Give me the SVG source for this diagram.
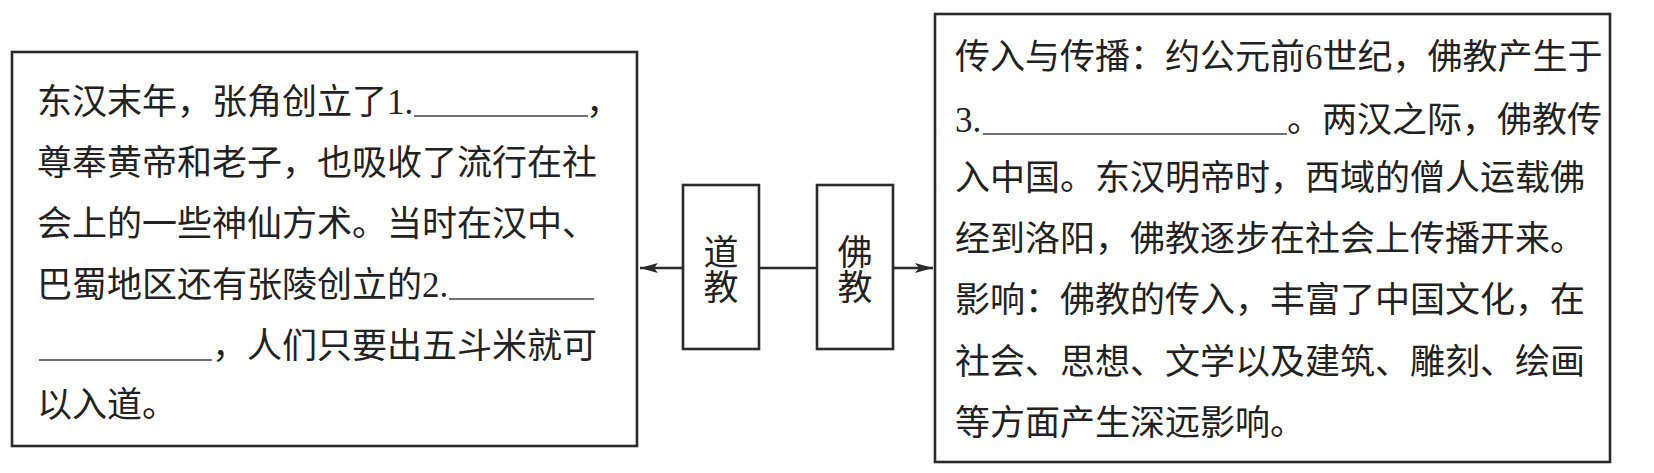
<svg xmlns="http://www.w3.org/2000/svg" width="1654" height="473" viewBox="0 0 1654 473">
<style>
.box{fill:#fff;stroke:#2a2a2a;stroke-width:2.6}
.t{font-family:"Noto Sans CJK SC","Noto Sans",sans-serif;font-size:35px;fill:#222}
.v{writing-mode:vertical-rl}
.d{font-family:"Liberation Serif",serif}
.blank{stroke:#444;stroke-width:1.5}
.conn{stroke:#2a2a2a;stroke-width:2.4;fill:none}
</style>
<defs>
<marker id="ah" markerUnits="userSpaceOnUse" markerWidth="22" markerHeight="14" refX="19" refY="6" orient="auto">
<path d="M1,1 L19,6 L1,11 L5,6 Z" fill="#2a2a2a"/>
</marker>
</defs>
<rect width="1654" height="473" fill="#fff"/>
<g id="connectors">
<line class="conn" x1="683" y1="268" x2="640" y2="268" marker-end="url(#ah)"/>
<line class="conn" x1="759" y1="268" x2="817" y2="268"/>
<line class="conn" x1="893" y1="268" x2="933" y2="268" marker-end="url(#ah)"/>
</g>
<g id="daoism-box">
<rect class="box" x="12" y="52" width="625" height="394"/>
<text class="t" x="37" y="114">东汉末年，张角创立了<tspan class="d">1.</tspan></text>
<line class="blank" x1="414" y1="116" x2="588" y2="116"/>
<text class="t" x="586" y="114">，</text>
<text class="t" x="37" y="175">尊奉黄帝和老子，也吸收了流行在社</text>
<text class="t" x="37" y="236">会上的一些神仙方术。当时在汉中、</text>
<text class="t" x="37" y="297">巴蜀地区还有张陵创立的<tspan class="d">2.</tspan></text>
<line class="blank" x1="449" y1="299" x2="594" y2="299"/>
<line class="blank" x1="39" y1="360" x2="212" y2="360"/>
<text class="t" x="212" y="358">，人们只要出五斗米就可</text>
<text class="t" x="37" y="417">以入道。</text>
</g>
<g id="node-daojiao">
<rect class="box" x="683" y="185" width="76" height="164"/>
<text class="t v" x="721" y="269" text-anchor="middle">道教</text>
</g>
<g id="node-fojiao">
<rect class="box" x="817" y="185" width="76" height="164"/>
<text class="t v" x="855" y="269" text-anchor="middle">佛教</text>
</g>
<g id="buddhism-box">
<rect class="box" x="935" y="14" width="675" height="448"/>
<text class="t" x="955" y="69">传入与传播：约公元前<tspan class="d">6</tspan>世纪，佛教产生于</text>
<text class="t" x="955" y="132"><tspan class="d">3.</tspan></text>
<line class="blank" x1="983" y1="134" x2="1287" y2="134"/>
<text class="t" x="1287" y="132">。两汉之际，佛教传</text>
<text class="t" x="955" y="190">入中国。东汉明帝时，西域的僧人运载佛</text>
<text class="t" x="955" y="251">经到洛阳，佛教逐步在社会上传播开来。</text>
<text class="t" x="955" y="312">影响：佛教的传入，丰富了中国文化，在</text>
<text class="t" x="955" y="374">社会、思想、文学以及建筑、雕刻、绘画</text>
<text class="t" x="955" y="435">等方面产生深远影响。</text>
</g>
</svg>
